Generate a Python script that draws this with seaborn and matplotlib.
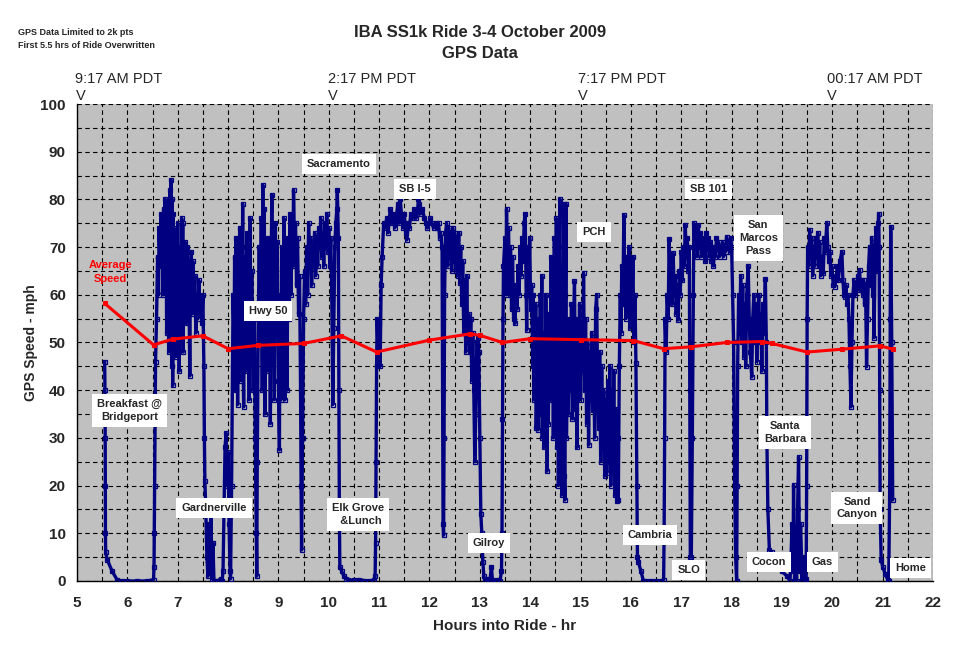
import matplotlib
matplotlib.use("Agg")
import matplotlib.pyplot as plt
import seaborn as sns
import pandas as pd
from matplotlib.ticker import MultipleLocator

# ---------------- data ----------------
seg_bridgeport = [(5.55, 46), (5.555, 40), (5.56, 30), (5.562, 20), (5.565, 10), (5.57, 6), (5.6, 4.5),
                  (5.7, 2), (5.8, 0.2), (5.9, 0), (6.0, 0), (6.2, 0), (6.4, 0), (6.52, 0.3), (6.53, 3),
                  (6.535, 10), (6.54, 20), (6.55, 33), (6.56, 46)]
seg_to_gardnerville = [(6.58, 55), (6.6, 68), (6.62, 60), (6.63, 74), (6.65, 66), (6.67, 77), (6.68, 70),
                       (6.7, 76), (6.71, 60), (6.72, 78), (6.74, 72), (6.75, 80), (6.76, 64), (6.77, 75),
                       (6.78, 52), (6.79, 70), (6.8, 58), (6.81, 79), (6.82, 48), (6.83, 73), (6.84, 55),
                       (6.85, 82), (6.86, 62), (6.87, 84), (6.88, 45), (6.89, 80), (6.9, 41), (6.91, 77),
                       (6.92, 50), (6.93, 74), (6.94, 60), (6.95, 72), (6.96, 47), (6.97, 69), (6.98, 58),
                       (7.0, 75), (7.01, 52), (7.02, 66), (7.03, 44), (7.05, 70), (7.06, 56), (7.08, 76),
                       (7.09, 62), (7.1, 75), (7.11, 48), (7.12, 68), (7.13, 58), (7.15, 71), (7.17, 54),
                       (7.19, 70), (7.2, 60), (7.22, 67), (7.24, 43), (7.25, 62), (7.27, 69), (7.29, 56),
                       (7.3, 67), (7.32, 58), (7.34, 64), (7.36, 52), (7.38, 60), (7.4, 55), (7.42, 63),
                       (7.44, 57), (7.46, 59), (7.48, 54), (7.5, 60), (7.52, 45), (7.53, 30), (7.54, 21)]
seg_gardnerville = [(7.56, 14), (7.58, 5), (7.6, 1), (7.62, 12), (7.64, 2), (7.66, 15), (7.68, 0.5),
                    (7.7, 8), (7.72, 0), (7.75, 0), (7.8, 0), (7.85, 0.5), (7.88, 0), (7.9, 2), (7.92, 15),
                    (7.94, 28), (7.96, 31), (7.98, 20), (8.0, 27), (8.02, 12), (8.04, 2), (8.05, 0.5)]
seg_hwy50 = [(8.07, 20), (8.09, 45), (8.1, 60), (8.12, 50), (8.13, 68), (8.15, 40), (8.16, 72), (8.18, 55),
             (8.19, 37), (8.2, 66), (8.22, 48), (8.23, 74), (8.25, 42), (8.27, 70), (8.28, 52), (8.29, 79),
             (8.3, 45), (8.31, 36.5), (8.33, 68), (8.35, 50), (8.37, 73), (8.38, 44), (8.4, 62), (8.42, 38),
             (8.44, 76), (8.45, 47), (8.47, 65), (8.5, 40), (8.52, 58), (8.54, 30), (8.56, 10), (8.57, 1),
             (8.58, 25), (8.6, 55), (8.62, 70), (8.64, 50), (8.66, 76), (8.68, 40), (8.69, 83), (8.7, 55),
             (8.72, 78), (8.73, 35), (8.75, 66), (8.77, 44), (8.79, 72), (8.8, 50), (8.82, 62), (8.84, 33),
             (8.86, 70), (8.87, 81), (8.88, 46), (8.9, 68), (8.92, 38), (8.94, 75), (8.96, 52), (8.98, 71),
             (9.0, 42), (9.02, 27.5), (9.03, 60), (9.05, 38), (9.07, 70), (9.09, 48), (9.11, 76), (9.13, 38),
             (9.15, 65), (9.17, 40), (9.19, 72), (9.21, 55), (9.23, 77), (9.25, 60), (9.27, 74), (9.29, 66),
             (9.3, 82), (9.32, 70), (9.34, 75), (9.36, 62), (9.38, 72), (9.4, 56), (9.42, 64), (9.44, 40),
             (9.45, 20), (9.46, 6.5), (9.48, 30), (9.5, 55)]
seg_sacramento = [(9.52, 65), (9.54, 58), (9.56, 70), (9.58, 60), (9.6, 75), (9.62, 66), (9.64, 72),
                  (9.66, 62), (9.68, 70), (9.7, 68), (9.72, 73), (9.74, 64), (9.76, 72), (9.78, 66), (9.8, 74),
                  (9.82, 70), (9.84, 76), (9.86, 68), (9.88, 73), (9.9, 66), (9.92, 75), (9.94, 70), (9.96, 77),
                  (9.98, 69), (10.0, 74), (10.02, 66), (10.04, 72), (10.06, 60), (10.08, 37), (10.1, 53),
                  (10.12, 70), (10.14, 75), (10.16, 78), (10.17, 82), (10.19, 72), (10.2, 40), (10.21, 15),
                  (10.22, 3)]
seg_elk_grove = [(10.26, 2), (10.3, 1), (10.35, 0.5), (10.39, 0.2), (10.5, 0.2), (10.6, 0.3), (10.7, 0.1),
                 (10.8, 0), (10.9, 0.2), (10.92, 1), (10.93, 8), (10.94, 25), (10.95, 45), (10.96, 55),
                 (10.98, 48), (11.0, 54), (11.02, 45), (11.04, 62), (11.06, 68), (11.09, 75)]
seg_i5 = [(11.12, 74), (11.15, 76), (11.18, 73), (11.22, 78), (11.25, 75), (11.28, 77), (11.31, 74),
          (11.34, 76), (11.37, 79), (11.4, 75), (11.42, 80), (11.45, 76), (11.48, 74), (11.5, 77), (11.53, 73),
          (11.55, 71.5), (11.58, 75), (11.6, 74), (11.63, 77), (11.66, 76), (11.7, 78), (11.73, 76), (11.76, 77),
          (11.78, 80), (11.8, 79), (11.83, 77), (11.86, 78), (11.9, 76), (11.93, 75), (11.96, 74), (11.99, 75),
          (12.02, 76), (12.05, 75), (12.08, 74), (12.12, 75), (12.15, 74), (12.18, 75), (12.2, 72), (12.22, 73),
          (12.25, 70), (12.26, 40), (12.27, 12), (12.28, 9.6), (12.29, 30), (12.3, 60), (12.32, 73)]
seg_to_gilroy = [(12.34, 75), (12.36, 66), (12.38, 74), (12.4, 68), (12.42, 73), (12.44, 65), (12.46, 74),
                 (12.48, 67), (12.5, 73), (12.52, 65), (12.54, 72), (12.56, 64), (12.58, 73), (12.6, 62.5),
                 (12.62, 70), (12.64, 58), (12.66, 67), (12.68, 52), (12.7, 63), (12.72, 48), (12.74, 64),
                 (12.76, 50), (12.78, 56), (12.8, 48), (12.82, 55), (12.84, 42), (12.86, 52), (12.88, 40),
                 (12.9, 25), (12.92, 35), (12.94, 50), (12.96, 51), (12.98, 48), (13.0, 30), (13.02, 14),
                 (13.04, 10)]
seg_gilroy = [(13.06, 4), (13.08, 1), (13.1, 0), (13.15, 0.5), (13.2, 0), (13.23, 3), (13.25, 0.2), (13.3, 0),
              (13.35, 0.3), (13.4, 0), (13.43, 2), (13.44, 10), (13.45, 34), (13.46, 55), (13.47, 66)]
seg_to_pch = [(13.5, 72), (13.52, 60), (13.53, 78), (13.55, 66), (13.57, 74), (13.59, 60), (13.61, 70),
              (13.63, 57), (13.65, 68), (13.67, 55), (13.7, 54), (13.72, 62), (13.74, 57), (13.76, 66),
              (13.78, 60), (13.8, 70), (13.82, 64), (13.84, 72), (13.86, 67), (13.88, 75), (13.9, 77),
              (13.92, 60), (13.93, 52.6), (13.95, 70), (13.97, 62), (13.99, 72), (14.01, 57), (14.03, 62)]
seg_pch = [(14.05, 45), (14.06, 60), (14.07, 38), (14.08, 55), (14.1, 42), (14.11, 58), (14.12, 32),
           (14.14, 50), (14.15, 40), (14.16, 31.7), (14.18, 55), (14.19, 35), (14.2, 60), (14.22, 40),
           (14.23, 64), (14.24, 30), (14.26, 52), (14.27, 28), (14.29, 48), (14.3, 35), (14.31, 60),
           (14.33, 23), (14.35, 45), (14.36, 33), (14.38, 56), (14.4, 42), (14.41, 68), (14.43, 38),
           (14.45, 58), (14.46, 30), (14.48, 72), (14.5, 40), (14.52, 76), (14.53, 28), (14.55, 62),
           (14.56, 20), (14.58, 70), (14.59, 80), (14.6, 25), (14.62, 65), (14.63, 18), (14.65, 55),
           (14.67, 79), (14.68, 22), (14.69, 17), (14.7, 60), (14.71, 79), (14.72, 30), (14.74, 48),
           (14.76, 35), (14.78, 55), (14.8, 40), (14.82, 58), (14.84, 34), (14.86, 52), (14.88, 62.8),
           (14.9, 36), (14.92, 55), (14.93, 28), (14.95, 48), (14.96, 40), (14.98, 58), (15.0, 38),
           (15.02, 52), (15.04, 44), (15.06, 64.5), (15.08, 40), (15.1, 55), (15.12, 33), (15.14, 50),
           (15.16, 28.5), (15.18, 48), (15.2, 38), (15.22, 52), (15.24, 35.8), (15.26, 50), (15.28, 30),
           (15.3, 57), (15.32, 60), (15.34, 40), (15.36, 32), (15.38, 48), (15.4, 25), (15.42, 45),
           (15.44, 28), (15.46, 40), (15.48, 22), (15.5, 38), (15.52, 22.6), (15.54, 42), (15.56, 25),
           (15.58, 45), (15.6, 20), (15.62, 40), (15.64, 23), (15.66, 44), (15.68, 18), (15.7, 36),
           (15.72, 16.7), (15.74, 30), (15.75, 17), (15.77, 45), (15.79, 60), (15.8, 52), (15.82, 66),
           (15.84, 58), (15.86, 76.7), (15.88, 62), (15.9, 55), (15.92, 68), (15.94, 57), (15.96, 70),
           (15.98, 53), (16.0, 67), (16.02, 58), (16.04, 68), (16.06, 50), (16.08, 60), (16.1, 45.6),
           (16.12, 20), (16.13, 5)]
seg_cambria = [(16.15, 4), (16.2, 2), (16.25, 0), (16.3, 0), (16.4, 0), (16.5, 0), (16.6, 0), (16.65, 0.3),
               (16.66, 10), (16.67, 30), (16.68, 55), (16.7, 48)]
seg_to_slo = [(16.72, 60), (16.74, 55), (16.76, 71.8), (16.78, 62), (16.8, 66), (16.82, 58), (16.84, 68.7),
              (16.86, 60), (16.88, 64), (16.9, 56), (16.92, 62), (16.94, 54.7), (16.96, 65), (16.98, 60),
              (17.0, 69), (17.02, 63), (17.04, 70), (17.06, 66), (17.08, 74.6), (17.1, 68), (17.12, 72),
              (17.14, 65), (17.16, 70), (17.17, 40), (17.18, 5.1), (17.2, 5), (17.22, 30), (17.24, 60),
              (17.25, 75)]
seg_101 = [(17.28, 70), (17.3, 74), (17.32, 68), (17.34, 74.6), (17.36, 70), (17.38, 73), (17.4, 68),
           (17.42, 72), (17.44, 69), (17.46, 71), (17.48, 67), (17.5, 73), (17.52, 70), (17.54, 72),
           (17.56, 68), (17.58, 71), (17.6, 67), (17.62, 70), (17.64, 66), (17.66, 70), (17.68, 68),
           (17.7, 72), (17.72, 70), (17.74, 71), (17.76, 68), (17.78, 70), (17.8, 69), (17.82, 71),
           (17.84, 68), (17.86, 70), (17.88, 69), (17.9, 72.2), (17.92, 70), (17.94, 71), (17.96, 69),
           (17.98, 72), (18.0, 70), (18.02, 60), (18.04, 50), (18.06, 20), (18.08, 5), (18.1, 0)]
seg_san_marcos = [(18.11, 20), (18.12, 45), (18.14, 60), (18.16, 52), (18.18, 64), (18.2, 50), (18.22, 62),
                  (18.24, 47), (18.26, 58), (18.28, 45), (18.3, 60), (18.33, 66), (18.35, 55), (18.37, 48),
                  (18.4, 42.8), (18.42, 55), (18.44, 60), (18.46, 50), (18.48, 58), (18.5, 46), (18.52, 56),
                  (18.54, 60), (18.56, 50), (18.58, 55), (18.6, 44), (18.62, 58), (18.64, 52), (18.67, 63.4),
                  (18.69, 50), (18.7, 30), (18.72, 15), (18.75, 6.5)]
seg_cocon_gas = [(18.8, 6), (18.9, 4), (19.0, 2), (19.1, 1), (19.16, 0), (19.18, 5), (19.2, 12), (19.22, 2),
                 (19.23, 20.1), (19.25, 0), (19.27, 10), (19.29, 0), (19.31, 15), (19.33, 26), (19.35, 2),
                 (19.37, 12), (19.4, 0), (19.42, 5), (19.45, 0), (19.48, 0.5)]
seg_home = [(19.49, 20), (19.5, 55), (19.51, 70), (19.53, 66), (19.55, 73.6), (19.57, 68), (19.59, 72),
            (19.61, 64), (19.63, 70), (19.65, 66), (19.67, 72), (19.69, 68), (19.71, 73), (19.73, 66),
            (19.75, 71), (19.77, 64), (19.8, 68), (19.82, 64.5), (19.84, 72), (19.86, 69), (19.89, 75),
            (19.91, 70), (19.93, 67), (19.95, 69), (19.97, 64), (19.99, 66), (20.02, 62), (20.05, 61.7),
            (20.08, 64), (20.1, 66), (20.12, 63), (20.15, 67), (20.19, 69), (20.21, 63), (20.23, 60),
            (20.25, 59.6), (20.27, 62), (20.29, 58), (20.31, 60), (20.33, 55), (20.35, 45), (20.37, 36.5),
            (20.39, 50), (20.41, 60), (20.43, 63), (20.45, 60), (20.48, 62), (20.5, 61), (20.52, 64),
            (20.54, 65.2), (20.56, 61), (20.58, 63), (20.6, 60), (20.62, 63), (20.64, 58), (20.66, 62),
            (20.68, 44.9), (20.7, 55), (20.72, 66), (20.74, 70), (20.76, 62), (20.78, 72), (20.8, 60),
            (20.82, 68), (20.83, 51), (20.85, 70), (20.87, 74), (20.89, 65), (20.91, 75), (20.92, 77),
            (20.93, 70), (20.94, 40), (20.95, 15), (20.97, 4.4), (21.0, 3), (21.05, 1.5), (21.1, 0.3),
            (21.12, 0), (21.14, 20), (21.15, 55), (21.16, 74.3), (21.18, 50), (21.2, 17)]

avg_hours = [5.55, 6.52, 6.9, 7.5, 8.0, 8.6, 9.5, 10.25, 10.95, 12.0, 12.8, 13.0, 13.45, 14.0, 15.0,
             16.05, 16.65, 17.2, 17.9, 18.6, 18.8, 19.5, 20.2, 20.95, 21.2]
avg_speed = [58.2, 49.5, 50.7, 51.4, 48.7, 49.4, 49.8, 51.4, 48.0, 50.5, 51.8, 51.5, 50.0, 50.8, 50.6,
             50.4, 48.7, 49.1, 50.0, 50.2, 49.8, 48.0, 48.6, 49.3, 48.6]

place_labels = ["Breakfast @\nBridgeport", "Gardnerville", "Hwy 50", "Sacramento", "SB I-5",
                "Elk Grove\n  &Lunch", "PCH", "Gilroy", "Cambria", "SLO", "SB 101",
                "San\nMarcos\nPass", "Santa\nBarbara", "Cocon", "Gas", "Sand\nCanyon", "Home"]
place_x = [6.05, 7.72, 8.79, 10.2, 11.71, 10.58, 15.27, 13.18, 16.38, 17.15, 17.55,
           18.53, 19.06, 18.74, 19.8, 20.49, 21.56]
place_y = [35.8, 15.3, 56.6, 87.4, 82.2, 14.0, 73.2, 8.0, 9.6, 2.3, 82.2,
           71.9, 31.2, 4.0, 4.0, 15.3, 2.7]

clock_labels = ["9:17 AM PDT", "2:17 PM PDT", "7:17 PM PDT", "00:17 AM PDT"]
clock_hours = [4.97, 9.98, 14.95, 19.9]
x_ticks = list(range(5, 23))
y_ticks = list(range(0, 101, 10))

# ---------------- build tables ----------------
segments = [seg_bridgeport, seg_to_gardnerville, seg_gardnerville, seg_hwy50, seg_sacramento,
            seg_elk_grove, seg_i5, seg_to_gilroy, seg_gilroy, seg_to_pch, seg_pch, seg_cambria,
            seg_to_slo, seg_101, seg_san_marcos, seg_cocon_gas, seg_home]
rows = [p for seg in segments for p in seg]
gps = pd.DataFrame(rows, columns=["hours", "speed"])
avg = pd.DataFrame({"hours": avg_hours, "speed": avg_speed})

# ---------------- figure ----------------
sns.set_style("white")
plt.rcParams["font.family"] = ["Liberation Sans", "DejaVu Sans"]

fig = plt.figure(figsize=(9.6, 6.55), dpi=100)
fig.patch.set_facecolor("white")
ax = fig.add_axes([0.0802, 0.1130, 0.8917, 0.7282])
ax.set_facecolor("#C0C0C0")

navy = "#000080"
sns.lineplot(data=gps, x="hours", y="speed", ax=ax, sort=False, estimator=None,
             color=navy, linewidth=2.4, marker="s", markersize=3.2,
             markerfacecolor="none", markeredgecolor=navy, markeredgewidth=0.9, zorder=3)
sns.lineplot(data=avg, x="hours", y="speed", ax=ax, sort=False, estimator=None,
             color="#FF0000", linewidth=2.2, marker="s", markersize=2.3,
             markeredgecolor="#FF0000", zorder=4)

ax.set_xlim(5, 22)
ax.set_ylim(0, 100)
ax.set_xticks(x_ticks)
ax.set_yticks(y_ticks)
ax.xaxis.set_minor_locator(MultipleLocator(0.5))
ax.yaxis.set_minor_locator(MultipleLocator(5))
ax.grid(which="both", color="black", linestyle=(0, (4, 3)), linewidth=0.8)
ax.set_axisbelow(True)
for s in ["top", "right"]:
    ax.spines[s].set_visible(False)
for s in ["left", "bottom"]:
    ax.spines[s].set_color("black")
    ax.spines[s].set_linewidth(1.0)
ax.tick_params(axis="both", which="major", direction="out", length=5, width=1, color="black",
               labelsize=11, pad=3)
ax.tick_params(axis="both", which="minor", length=0)
for lab in ax.get_xticklabels() + ax.get_yticklabels():
    lab.set_fontweight("bold")
ax.tick_params(axis="x", pad=6)

ax.set_xlabel("Hours into Ride - hr", fontsize=11, fontweight="bold", labelpad=6)
ax.set_ylabel("GPS Speed - mph", fontsize=10, fontweight="bold", labelpad=2)

# annotations
for txt, x, y in zip(place_labels, place_x, place_y):
    ax.text(x, y, txt, ha="center", va="center", fontsize=8, fontweight="bold", zorder=6,
            linespacing=1.35,
            bbox=dict(boxstyle="square,pad=0.45", facecolor="white", edgecolor="none"))
ax.text(5.66, 64.8, "Average\nSpeed", ha="center", va="center", color="#FF0000",
        fontsize=8, fontweight="bold", linespacing=1.5, zorder=6)

# clock labels above the plot
for txt, x in zip(clock_labels, clock_hours):
    ax.text(x, 105.2, txt, ha="left", va="center", fontsize=10.5, clip_on=False)
    ax.text(x, 101.6, "V", ha="left", va="center", fontsize=10.5, clip_on=False)

fig.text(0.5, 0.950, "IBA SS1k Ride 3-4 October 2009", ha="center", va="center",
         fontsize=12, fontweight="bold")
fig.text(0.5, 0.919, "GPS Data", ha="center", va="center", fontsize=12, fontweight="bold")
fig.text(0.019, 0.951, "GPS Data Limited to 2k pts", ha="left", va="center", fontsize=6.5,
         fontweight="bold")
fig.text(0.019, 0.930, "First 5.5 hrs of Ride Overwritten", ha="left", va="center", fontsize=6.5,
         fontweight="bold")

fig.savefig("out.png", dpi=100, facecolor="white")
